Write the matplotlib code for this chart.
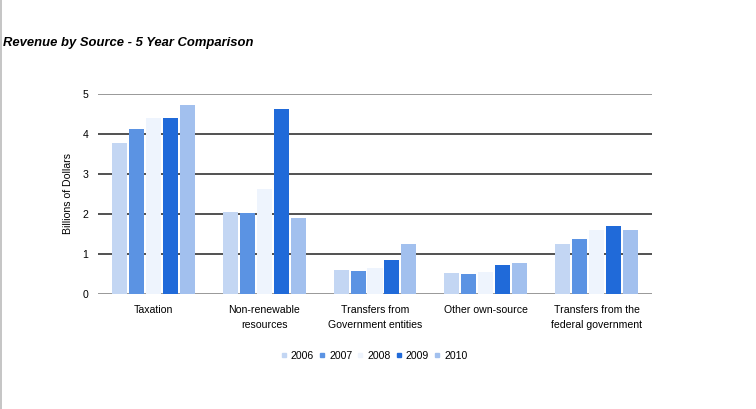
import matplotlib
matplotlib.use("Agg")
import matplotlib.pyplot as plt
import numpy as np
from matplotlib.lines import Line2D

categories = ["Taxation", "Non-renewable\nresources", "Transfers from\nGovernment entities",
              "Other own-source", "Transfers from the\nfederal government"]
years = ["2006", "2007", "2008", "2009", "2010"]
values = {
    "2006": [3.77, 2.05, 0.60, 0.52, 1.25],
    "2007": [4.12, 2.02, 0.57, 0.50, 1.37],
    "2008": [4.41, 2.62, 0.64, 0.55, 1.60],
    "2009": [4.41, 4.62, 0.85, 0.72, 1.70],
    "2010": [4.72, 1.91, 1.25, 0.77, 1.60],
}
colors = ["#c3d6f3", "#5b93e3", "#eef4fd", "#206ad9", "#a2c0ee"]
yticks = [0, 1, 2, 3, 4, 5]

plt.rcParams['font.family'] = ['Liberation Sans', 'DejaVu Sans']
FS = 7.6

W, H = 756, 409
fig = plt.figure(figsize=(W / 100, H / 100), dpi=100)
ax = fig.add_axes([98 / W, 1 - 294 / H, (652 - 98) / W, 200 / H])

x = np.arange(len(categories))
slot = 0.153
bw = 0.136
for i, yr in enumerate(years):
    ax.bar(x + (i - 2) * slot, values[yr], width=bw, color=colors[i], zorder=3, label=yr)

ax.set_xlim(-0.5, len(categories) - 0.5)
ax.set_ylim(0, 5)
for t in yticks:
    c = "#888888" if t in (0, 5) else "#333333"
    ax.axhline(t, color=c, lw=1.2, zorder=1)
ax.set_yticks(yticks)
ax.set_yticklabels([str(t) for t in yticks], fontsize=FS)
ax.set_xticks(x)
ax.set_xticklabels(categories, fontsize=FS, linespacing=1.6)
ax.tick_params(axis='both', length=0)
ax.tick_params(axis='y', pad=7)
ax.tick_params(axis='x', pad=8)
for s in ax.spines.values():
    s.set_visible(False)
ax.set_ylabel("Billions of Dollars", fontsize=FS, labelpad=7)

fig.text(3 / W, 1 - 43 / H, "Revenue by Source - 5 Year Comparison", fontsize=9.4,
         fontweight='bold', fontstyle='italic', va='center', ha='left')

handles = [Line2D([], [], marker='s', linestyle='', markersize=3.2, color=c) for c in colors]
fig.legend(handles, years, loc='center', bbox_to_anchor=(374 / W, 1 - 356 / H),
           ncol=5, frameon=False, fontsize=FS, handletextpad=0.36, columnspacing=0.47,
           handlelength=0.6)

fig.add_artist(Line2D([0.5 / W, 0.5 / W], [0, 1], color="#bbbbbb", lw=1.2,
                      transform=fig.transFigure))

fig.savefig("out.png", dpi=100)
